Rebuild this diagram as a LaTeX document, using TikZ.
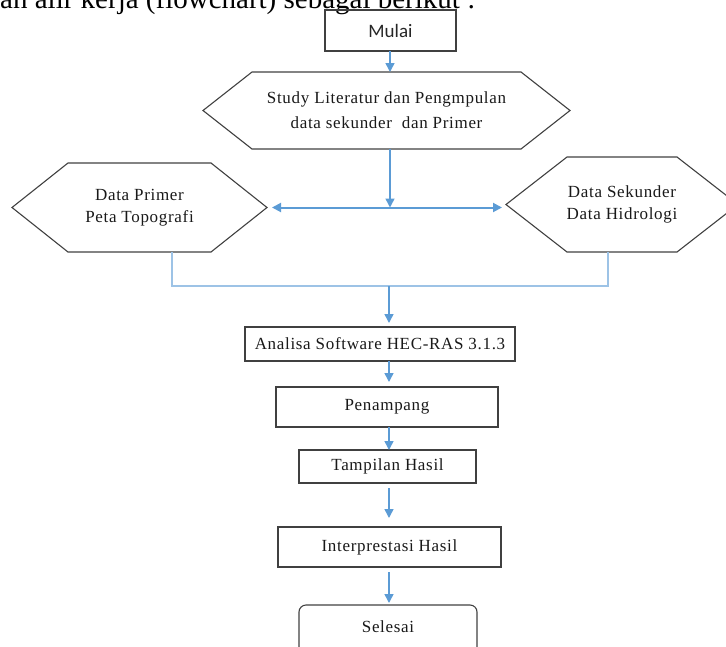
\documentclass[tikz,border=0pt]{standalone}
\usepackage{fontspec}
\setmainfont{Liberation Serif}
\newfontfamily\carlito{Carlito}
\usetikzlibrary{arrows.meta,calc}
\definecolor{arrblue}{HTML}{5B9BD5}
\definecolor{lineblue}{HTML}{9DC3E6}
\definecolor{boxgray}{HTML}{404040}
\newcommand\hexpath[2]{%
  \draw[boxline] (#1.west) -- ([xshift=#2]#1.north west) -- ([xshift=-#2]#1.north east)
    -- (#1.east) -- ([xshift=-#2]#1.south east) -- ([xshift=#2]#1.south west) -- cycle;}
\begin{document}
\begin{tikzpicture}[x=1pt,y=-1pt,
  boxline/.style={draw=boxgray, line width=1.1pt},
  lbl/.style={font=\fontsize{17}{#1}\selectfont\addfontfeatures{LetterSpace=4}, align=center, text=black!90},
  lbl/.default=22,
  box/.style={boxline, rectangle, inner sep=0pt, outer sep=0pt},
  hexnode/.style={rectangle, draw=none, inner sep=0pt, outer sep=0pt},
  arr/.style={draw=arrblue, line width=1.5pt, -{Triangle[length=9pt,width=9pt]}},
  dbl/.style={draw=arrblue, line width=2pt, {Triangle[length=9pt,width=9pt]}-{Triangle[length=9pt,width=9pt]}},
  merge/.style={draw=lineblue, line width=1.3pt}]
\useasboundingbox (0,0) rectangle (726,646);
\clip (0,0) rectangle (726,646);

% partial heading text at the top edge
\node[anchor=base west, inner sep=0pt, font=\fontsize{29}{34}\selectfont] (head) at (0,8) {an alir kerja (flowchart) sebagai berikut :};

% nodes
\node[box, minimum width=131pt, minimum height=41pt, font=\carlito\fontsize{19}{23}\selectfont, text=black!85] (mulai) at (390.5,30.5) {Mulai};

\node[hexnode, lbl=25, minimum width=367pt, minimum height=77pt] (study) at (386.5,110.5) {Study Literatur dan Pengmpulan\\data sekunder\ \ dan Primer};
\hexpath{study}{49pt}

\node[hexnode, lbl, minimum width=255pt, minimum height=89pt] (primer) at (139.5,207.5) {Data Primer\\Peta Topografi};
\hexpath{primer}{56pt}

\node[hexnode, lbl, minimum width=232pt, minimum height=95pt] (sekunder) at (622,204.5) {Data Sekunder\\Data Hidrologi};
\hexpath{sekunder}{61pt}

\node[box, lbl, minimum width=270pt, minimum height=34pt] (analisa) at (380,344) {Analisa Software HEC-RAS 3.1.3};
\node[box, lbl, minimum width=222pt, minimum height=40pt] (penampang) at (387,407) {Penampang};
\node[box, lbl, minimum width=177pt, minimum height=33pt] (tampilan) at (387.5,466.5) {Tampilan Hasil};
\node[box, lbl, minimum width=223pt, minimum height=40pt] (interp) at (389.5,547) {Interprestasi Hasil};
\node[box, rounded corners=7pt, minimum width=178pt, minimum height=56pt] (selesai) at (388,633) {};
\node[lbl] (selesaitxt) at (388,627) {Selesai};

% connectors
\coordinate (J) at (390,207.5);
\coordinate (M) at (389,286);
\draw[arr] (mulai.south -| J) -- (study.north -| J);
\draw[arr] (study.south -| J) -- (J);
\draw[dbl, shorten <=5pt, shorten >=4pt] (primer.east) -- (primer.east -| sekunder.west);
\draw[merge] ([xshift=32.5pt]primer.south) |- (M) -| ([xshift=-14pt]sekunder.south);
\draw[arr, shorten >=4pt] (M) -- (M |- analisa.north);
\draw[arr, shorten >=5pt] (analisa.south -| M) -- (penampang.north -| M);
\draw[arr] (penampang.south -| M) -- (tampilan.north -| M);
\draw[arr, shorten <=5pt, shorten >=9pt] (tampilan.south -| M) -- (interp.north -| M);
\draw[arr, shorten <=5pt, shorten >=2pt] (interp.south -| M) -- (selesai.north -| M);
\end{tikzpicture}
\end{document}
